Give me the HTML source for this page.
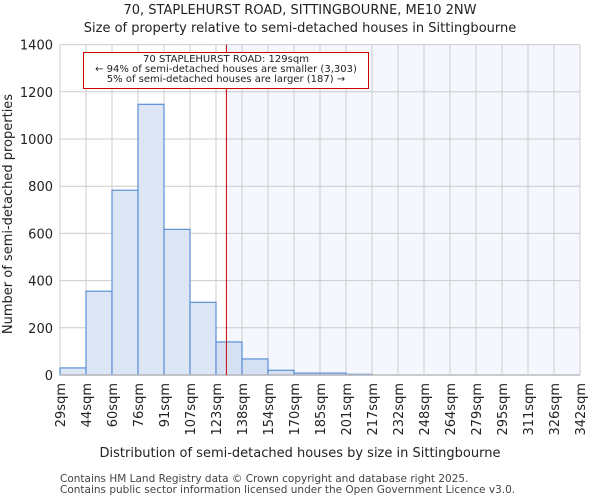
<!DOCTYPE html>
<html><head><meta charset="utf-8"><style>
body{margin:0;background:#fff;}
svg{display:block;font-family:"DejaVu Sans","Liberation Sans",sans-serif;}
</style></head><body>
<svg id="chart" width="600" height="500" viewBox="0 0 600 500">
<text x="300" y="14" font-size="13" text-anchor="middle" fill="#222">70, STAPLEHURST ROAD, SITTINGBOURNE, ME10 2NW</text>
<text x="300" y="32" font-size="13" text-anchor="middle" fill="#222">Size of property relative to semi-detached houses in Sittingbourne</text>
<g id="plot"></g>
<text x="300" y="457" font-size="13" text-anchor="middle" fill="#222">Distribution of semi-detached houses by size in Sittingbourne</text>
<text transform="translate(12,214) rotate(-90)" font-size="13" text-anchor="middle" fill="#222">Number of semi-detached properties</text>
<text x="60" y="482" font-size="10.5" fill="#444">Contains HM Land Registry data © Crown copyright and database right 2025.</text>
<text x="60" y="493" font-size="10.5" fill="#444">Contains public sector information licensed under the Open Government Licence v3.0.</text>
</svg>
<script>
const tickLabels=["29sqm","44sqm","60sqm","76sqm","91sqm","107sqm","123sqm","138sqm","154sqm","170sqm","185sqm","201sqm","217sqm","232sqm","248sqm","264sqm","279sqm","295sqm","311sqm","326sqm","342sqm"];
const counts=[30,355,783,1147,617,308,140,68,20,8,8,3,0,0,0,0,0,0,0,0];
const yTicks=[0,200,400,600,800,1000,1200,1400];
const markerIndex=6.4;
const NS="http://www.w3.org/2000/svg";
const g=document.getElementById('plot');
const X0=60,X1=580,Y0=375,Y1=44.6,YMAX=1400;
const xs=i=>X0+(X1-X0)*i/(tickLabels.length-1);
const ys=v=>Y0-(Y0-Y1)*v/YMAX;
function mk(t,a){const e=document.createElementNS(NS,t);for(const k in a)e.setAttribute(k,a[k]);g.appendChild(e);return e;}
const mx=xs(markerIndex);
let e=mk('rect',{x:mx,y:Y1,width:X1-mx,height:Y0-Y1,fill:'#f4f7fd'});


yTicks.forEach(v=>{
 let l=mk('line',{x1:X0,x2:X1,y1:ys(v),y2:ys(v),stroke:'#cccccc','stroke-width':1});
 
 
 let t=mk('text',{x:X0-7,y:ys(v)+5,'font-size':13,'text-anchor':'end',fill:'#222'});
 t.textContent=v;
 
 
});
tickLabels.forEach((s,i)=>{
 let l=mk('line',{x1:xs(i),x2:xs(i),y1:Y1,y2:Y0,stroke:'#cccccc','stroke-width':1});
 
 
 let t=mk('text',{transform:`translate(${xs(i)+5},${Y0+8}) rotate(-90)`,'font-size':13,'text-anchor':'end',fill:'#222'});
 t.textContent=s;
 
 
});
counts.forEach((c,i)=>{
 if(c<=0)return;
 let r=mk('rect',{x:xs(i),y:ys(c),width:xs(i+1)-xs(i),height:Y0-ys(c),fill:i+1>markerIndex?'#d5e1f3':'#dce6f4',stroke:'#5b8fd6','stroke-width':1.2});
 
 
});
e=mk('line',{x1:X0,x2:X1,y1:Y0,y2:Y0,stroke:'#bbbbbb','stroke-width':1.5});


e=mk('line',{x1:mx,x2:mx,y1:Y1,y2:Y0,stroke:'#cc0000','stroke-width':1});


e=mk('rect',{x:83.5,y:52.5,width:285,height:36,fill:'#fff',stroke:'#cc0000','stroke-width':1});


["70 STAPLEHURST ROAD: 129sqm","← 94% of semi-detached houses are smaller (3,303)","5% of semi-detached houses are larger (187) →"].forEach((s,i)=>{
 let t=mk('text',{x:226,y:62+i*10,'font-size':10,'text-anchor':'middle',fill:'#222'});
 t.textContent=s;
 
 
});
</script>
</body></html>
